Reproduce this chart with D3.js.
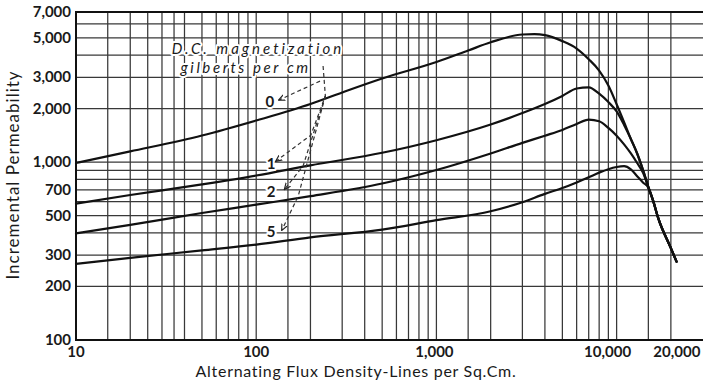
<!DOCTYPE html>
<html><head><meta charset="utf-8">
<script src="https://cdn.jsdelivr.net/npm/d3@7"></script>
<style>
html,body{margin:0;padding:0;background:#fff;}
svg{display:block;}
text{font-family:Lato,"Open Sans",sans-serif;fill:#1a1a1a;}
</style></head>
<body>
<svg id="chart" width="703" height="384"></svg>
<script>
// ---------- data ----------
const xTickValues = [10, 100, 1000, 10000, 20000];
const xTickLabels = ["10", "100", "1,000", "10,000", "20,000"];
const yTickValues = [100, 200, 300, 500, 700, 1000, 2000, 3000, 5000, 7000];
const yTickLabels = ["100", "200", "300", "500", "700", "1,000", "2,000", "3,000", "5,000", "7,000"];
const xGridValues = [15, 20, 25, 30, 35, 40, 50, 60, 70, 80, 90, 100, 150, 200, 300, 400, 500, 600, 700, 800, 900,
  1000, 1500, 2000, 3000, 4000, 5000, 6000, 7000, 8000, 9000, 10000, 15000, 20000];
const yGridValues = [100, 200, 300, 400, 500, 600, 700, 800, 900, 1000, 2000, 3000, 4000, 5000, 6000, 7000];

const seriesNames = ["0", "1", "2", "5"];
const flux0 = [10, 20, 50, 100, 200, 300, 500, 1000, 1500, 2000, 3000, 3500, 4000, 5000, 6000, 7000, 8000, 9000, 10000, 11000, 12000, 13000, 14000, 15000, 16000, 17000, 20000, 21500];
const perm0 = [990, 1150, 1413, 1716, 2125, 2470, 2960, 3660, 4250, 4730, 5230, 5250, 5190, 4800, 4360, 3800, 3280, 2700, 2120, 1680, 1350, 1120, 905, 725, 600, 486, 329, 276];
const flux1 = [10, 20, 50, 100, 200, 500, 1000, 2000, 3000, 4000, 5000, 6000, 7000, 8000, 9000, 10000, 11000, 12000, 13000, 14000, 15000, 16000, 17000, 20000, 21500];
const perm1 = [585, 654, 751, 842, 961, 1130, 1330, 1630, 1890, 2125, 2360, 2600, 2640, 2430, 2180, 1930, 1620, 1350, 1120, 905, 725, 600, 486, 329, 276];
const flux2 = [10, 20, 50, 100, 200, 500, 1000, 2000, 3000, 4000, 5000, 6000, 7000, 8000, 9000, 10000, 11000, 12000, 13000, 14000, 15000, 16000, 17000, 20000, 21500];
const perm2 = [398, 444, 518, 577, 644, 759, 904, 1120, 1285, 1410, 1520, 1640, 1735, 1700, 1560, 1410, 1260, 1120, 990, 875, 725, 600, 486, 329, 276];
const flux5 = [10, 20, 50, 100, 200, 500, 1000, 2000, 3000, 4000, 5000, 6000, 7000, 8000, 9000, 10000, 11000, 12000, 13000, 14000, 15000, 16000, 17000, 20000, 21500];
const perm5 = [268, 290, 319, 344, 378, 418, 472, 530, 596, 664, 716, 770, 823, 874, 914, 940, 950, 912, 835, 770, 718, 600, 486, 329, 276];

const legendLine1 = "D.C. magnetization";
const legendLine2 = "gilberts per cm";
const xTitle = "Alternating Flux Density-Lines per Sq.Cm.";
const yTitle = "Incremental Permeability";

// ---------- layout ----------
const svg = d3.select("#chart");
const mL = 76, mR = 702.6, mT = 12, mB = 340;
const x = d3.scaleLog().domain([10, 30000]).range([mL, mR]);
const y = d3.scaleLog().domain([100, 7000]).range([mB, mT]);

svg.append("rect").attr("width", 703).attr("height", 384).attr("fill", "#fff");

const grid = svg.append("g").attr("stroke", "#383838").attr("stroke-width", 1.25);
grid.selectAll("line.v").data(xGridValues).join("line").attr("class", "v")
  .attr("x1", d => x(d)).attr("x2", d => x(d))
  .attr("y1", mT).attr("y2", mB);
grid.selectAll("line.h").data(yGridValues).join("line").attr("class", "h")
  .attr("x1", mL).attr("x2", 703)
  .attr("y1", d => y(d)).attr("y2", d => y(d));

// frame
const frame = svg.append("g").attr("stroke", "#111").attr("stroke-width", 2).attr("fill", "none");
frame.append("line").attr("x1", mL).attr("x2", mL).attr("y1", mT - 1).attr("y2", mB + 1);
frame.append("line").attr("x1", mL).attr("x2", 703).attr("y1", mT).attr("y2", mT);
frame.append("line").attr("x1", mL - 1).attr("x2", 703).attr("y1", mB).attr("y2", mB);

// curves
const series = [
  {name: seriesNames[0], xs: flux0, ys: perm0},
  {name: seriesNames[1], xs: flux1, ys: perm1},
  {name: seriesNames[2], xs: flux2, ys: perm2},
  {name: seriesNames[3], xs: flux5, ys: perm5}
];
const line = d3.line().x(d => x(d[0])).y(d => y(d[1])).curve(d3.curveMonotoneX);
svg.append("g").selectAll("path").data(series).join("path")
  .attr("d", s => line(s.xs.map((v, i) => [v, s.ys[i]])))
  .attr("fill", "none").attr("stroke", "#111").attr("stroke-width", 2.2)
  .attr("stroke-linejoin", "round").attr("stroke-linecap", "round");

// y tick labels
svg.append("g").selectAll("text").data(yTickValues).join("text")
  .attr("x", 71).attr("y", d => y(d)).attr("dy", "0.33em")
  .attr("text-anchor", "end").attr("font-size", 15).attr("font-weight", "bold")
  .text((d, i) => yTickLabels[i]);

// x tick labels
const xLabelShift = [0, 0, -2, -9, 6];
svg.append("g").selectAll("text").data(xTickValues).join("text")
  .attr("x", (d, i) => x(d) + xLabelShift[i]).attr("y", 357)
  .attr("text-anchor", "middle").attr("font-size", 15).attr("font-weight", "bold")
  .text((d, i) => xTickLabels[i]);

// axis titles
svg.append("text").attr("x", 356).attr("y", 377)
  .attr("text-anchor", "middle").attr("font-size", 16).attr("letter-spacing", 0.7)
  .text(xTitle);
svg.append("text").attr("transform", "translate(19," + 175 + ") rotate(-90)")
  .attr("text-anchor", "middle").attr("font-size", 17).attr("letter-spacing", 1)
  .text(yTitle);

// legend annotation
const ann = svg.append("g");
const halo = sel => sel.attr("stroke", "#fff").attr("stroke-width", 4).attr("paint-order", "stroke")
  .attr("stroke-linejoin", "round");
ann.append("text").attr("x", x(34)).attr("y", y(4060)).attr("font-size", 15).attr("font-style", "italic")
  .attr("letter-spacing", 3).text(legendLine1).call(halo);
ann.append("text").attr("x", x(38)).attr("y", y(3180)).attr("font-size", 15).attr("font-style", "italic")
  .attr("letter-spacing", 2.6).text(legendLine2).call(halo);

const labelPos = [[119, 2190], [121, 983], [121, 680], [121, 405]];
ann.selectAll("text.num").data(labelPos).join("text").attr("class", "num")
  .attr("x", d => x(d[0])).attr("y", d => y(d[1])).attr("dy", "0.36em")
  .attr("text-anchor", "middle").attr("font-size", 15).attr("font-weight", "bold")
  .text((d, i) => seriesNames[i]).call(halo);

// dashed leaders (in data units)
const leaders = [
  [[226, 2860], [134, 2240]],
  [[235, 3480], [242, 2360], [201, 1420], [129, 1016]],
  [[242, 2360], [182, 952], [144, 707]],
  [[242, 2360], [171, 645], [139, 416]]
];
const dl = d3.line().x(d => x(d[0])).y(d => y(d[1]));
svg.append("defs").append("marker").attr("id", "arr").attr("viewBox", "0 0 10 10")
  .attr("refX", 8).attr("refY", 5).attr("markerWidth", 6).attr("markerHeight", 6).attr("orient", "auto")
  .append("path").attr("d", "M0,1 L9,5 L0,9").attr("fill", "none").attr("stroke", "#222").attr("stroke-width", 1.6);
ann.selectAll("path.lead").data(leaders).join("path").attr("class", "lead")
  .attr("d", d => dl(d)).attr("fill", "none").attr("stroke", "#333").attr("stroke-width", 1.2)
  .attr("stroke-dasharray", "4,3").attr("marker-end", "url(#arr)");
</script>
</body></html>
